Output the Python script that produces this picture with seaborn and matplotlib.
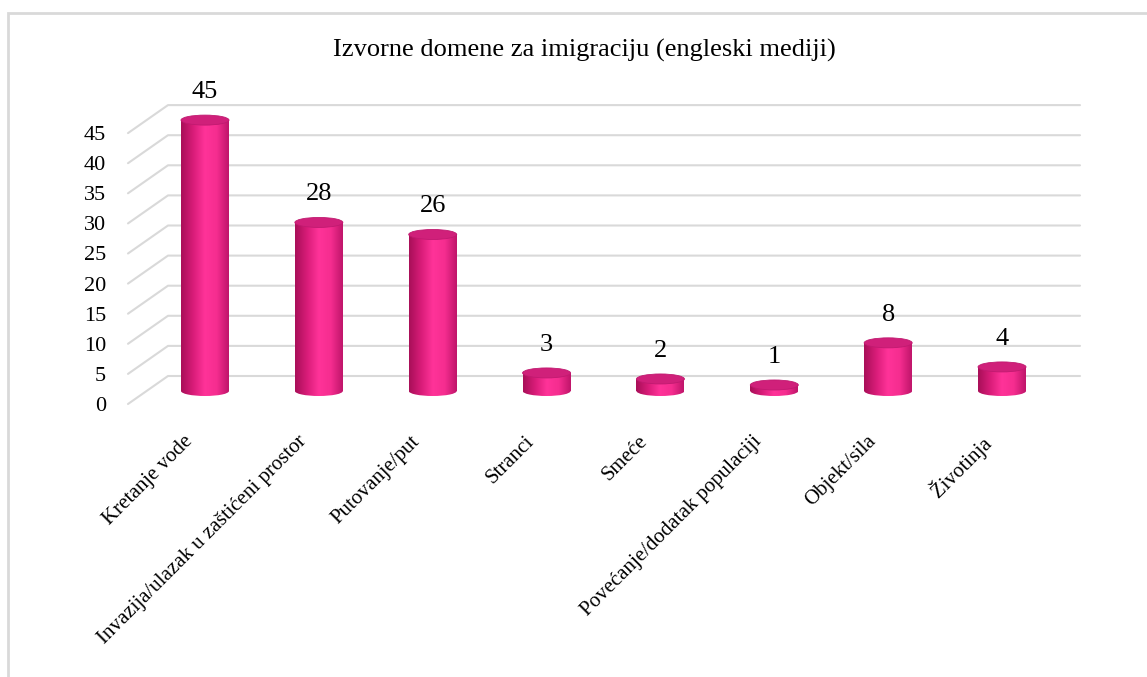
import numpy as np
import matplotlib
matplotlib.use("Agg")
import matplotlib.pyplot as plt
import matplotlib.transforms as mtransforms
from matplotlib.patches import Ellipse, Rectangle
from matplotlib.colors import LinearSegmentedColormap
import seaborn as sns

# data
categories = ["Kretanje vode", "Invazija/ulazak u zaštićeni prostor", "Putovanje/put",
              "Stranci", "Smeće", "Povećanje/dodatak populaciji", "Objekt/sila", "Životinja"]
values = [45, 28, 26, 3, 2, 1, 8, 4]
y_ticks = [0, 5, 10, 15, 20, 25, 30, 35, 40, 45]
title = "Izvorne domene za imigraciju (engleski mediji)"

sns.set_style("white")
plt.rcParams["font.family"] = ["Liberation Serif", "DejaVu Serif"]
plt.rcParams["text.color"] = "black"
plt.rcParams["xtick.color"] = "black"
plt.rcParams["ytick.color"] = "black"

W, H, DPI = 1147, 677, 100
fig = plt.figure(figsize=(W / DPI, H / DPI), dpi=DPI)

# layout in pixels
AX_L, AX_R, AX_T, AX_B = 125, 1080, 100, 405
X0_PX, X_STEP = 205, 113.86   # centre of first bar, spacing between bars
Y0_PX, Y_STEP = 391, 6.02     # bar base, pixels per unit
BAR_W = 48 / X_STEP
ELL_H = 10 / Y_STEP
BACK_DY = 15 / Y_STEP         # back wall sits a bit higher
FRONT_DY = -13 / Y_STEP       # front edge a bit lower


def px2x(px):
    return (px - X0_PX) / X_STEP


ax = fig.add_axes([AX_L / W, 1 - AX_B / H, (AX_R - AX_L) / W, (AX_B - AX_T) / H])
ax.set_facecolor("none")

# bars
sns.barplot(x=categories, y=values, color="#ee2a8a", width=BAR_W, linewidth=0, ax=ax, zorder=3)

# cylinder shading
cmap = LinearSegmentedColormap.from_list("cyl", ["#a80f58", "#d81c78", "#ff3399", "#f52d8f", "#bf156a"])
grad = np.linspace(0, 1, 256).reshape(1, -1)
for p in list(ax.patches):
    x, w, h = p.get_x(), p.get_width(), p.get_height()
    cx = x + w / 2
    im = ax.imshow(grad, cmap=cmap, extent=(x, x + w, 0, h), aspect="auto",
                   interpolation="bicubic", zorder=3)
    im.set_clip_path(p)
    base = Ellipse((cx, 0), w, ELL_H, facecolor="none", edgecolor="none", zorder=2.9)
    ax.add_patch(base)
    im2 = ax.imshow(grad, cmap=cmap, extent=(x, x + w, -ELL_H / 2, ELL_H / 2), aspect="auto",
                    interpolation="bicubic", zorder=2.9)
    im2.set_clip_path(base)
    ax.add_patch(Ellipse((cx, h), w, ELL_H, facecolor="#d0207a", edgecolor="#c01a70",
                         lw=0.6, zorder=4))

# data labels
for i, v in enumerate(values):
    ax.text(i, v + 28 / Y_STEP, str(v), ha="center", va="center", fontsize=19, zorder=5)

# perspective gridlines (front edge -> back wall)
for v in y_ticks:
    ax.plot([px2x(128), px2x(168), px2x(AX_R)],
            [v + FRONT_DY, v + BACK_DY, v + BACK_DY],
            color="#d9d9d9", lw=1.5, zorder=1, clip_on=False)

ax.set_xlim(px2x(AX_L), px2x(AX_R))
ax.set_ylim(-(AX_B - Y0_PX) / Y_STEP, (Y0_PX - AX_T) / Y_STEP)

# y tick labels aligned with the front edge of the gridlines
ax.set_yticks(y_ticks)
ax.set_yticklabels([str(t) for t in y_ticks], fontsize=16)
ax.tick_params(axis="y", length=0, pad=19 * 72 / DPI)
y_off = mtransforms.ScaledTranslation(0, -13 / DPI, fig.dpi_scale_trans)
for lab in ax.get_yticklabels():
    lab.set_transform(lab.get_transform() + y_off)

# x tick labels
ax.set_xticks(range(len(categories)))
ax.set_xticklabels(categories, rotation=45, ha="right", rotation_mode="anchor", fontsize=15)
ax.tick_params(axis="x", length=0, pad=0)
x_off = mtransforms.ScaledTranslation(-22 / DPI, -27 / DPI, fig.dpi_scale_trans)
for lab in ax.get_xticklabels():
    lab.set_transform(lab.get_transform() + x_off)

ax.set_xlabel("")
ax.set_ylabel("")
sns.despine(ax=ax, left=True, bottom=True)

fig.text(584 / W, 1 - 50 / H, title, ha="center", va="center", fontsize=19)

# chart frame (only top and left edges are visible in the reference)
fig.add_artist(Rectangle((8 / W, -0.1), 1.2, 1.1 - 13 / H, transform=fig.transFigure,
                         fill=False, edgecolor="#d9d9d9", lw=2))

fig.savefig("out.png", dpi=DPI)
